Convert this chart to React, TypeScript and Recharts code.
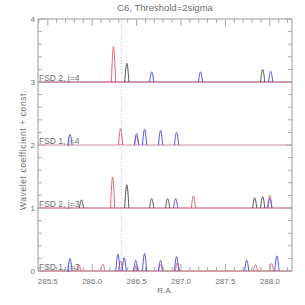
import { LineChart, Line, XAxis, YAxis, ReferenceLine, ReferenceArea } from "recharts";

// tick positions
const xTicks = [
  285.4, 285.5, 285.6, 285.7, 285.8, 285.9, 286.0, 286.1, 286.2, 286.3, 286.4, 286.5, 286.6, 286.7, 286.8,
  286.9, 287.0, 287.1, 287.2, 287.3, 287.4, 287.5, 287.6, 287.7, 287.8, 287.9, 288.0, 288.1, 288.2,
];
const yTicks = [0, 0.2, 0.4, 0.6, 0.8, 1, 1.2, 1.4, 1.6, 1.8, 2, 2.2, 2.4, 2.6, 2.8, 3, 3.2, 3.4, 3.6, 3.8, 4];

const rowBases = [3, 2, 1, 0];
const rowLabels = ["FSD 2, j=4", "FSD 1, j=4", "FSD 2, j=3", "FSD 1, j=3"];
const rowColors = ["#a0306e", "#d68a9c", "#c04a6c", "#d27888"];

const markerRA = 286.33;

// peaks per row: [R.A., coefficient + const]
const redPeaks = [
  [[286.24, 3.56]],
  [[286.32, 2.26], [286.5, 2.13]],
  [[286.23, 1.49], [287.14, 1.19], [288.0, 1.2]],
  [[285.85, 0.1], [286.12, 0.11], [286.32, 0.16], [286.5, 0.1], [286.77, 0.1], [286.96, 0.13], [287.84, 0.1], [288.02, 0.12]],
];
const blackPeaks = [
  [[286.39, 3.3], [287.92, 3.2]],
  [],
  [[285.88, 1.13], [286.39, 1.37], [286.67, 1.15], [286.85, 1.15], [287.83, 1.16], [287.92, 1.18]],
  [],
];
const bluePeaks = [
  [[286.67, 3.16], [287.22, 3.16], [288.01, 3.17]],
  [[285.75, 2.17], [286.5, 2.18], [286.59, 2.25], [286.77, 2.23], [286.95, 2.2]],
  [[286.94, 1.15], [288.0, 1.15]],
  [[285.75, 0.2], [286.29, 0.27], [286.36, 0.21], [286.49, 0.17], [286.59, 0.28], [286.77, 0.17], [286.95, 0.23], [287.74, 0.17], [288.08, 0.24]],
];

const HALF = 0.024;
const PLOT_W = 254;
const PLOT_H = 252;
const TXT = "#707070";
const FONT = "'Liberation Sans', 'DejaVu Sans', sans-serif";

function arches(peaks: number[][], base: number) {
  const pts: { x: number; y: number | null }[] = [];
  [...peaks].sort((a, b) => a[0] - b[0]).forEach(([ra, top]) => {
    pts.push({ x: ra - HALF, y: base }, { x: ra, y: top }, { x: ra + HALF, y: base }, { x: ra + HALF, y: null });
  });
  return pts;
}

function XTick(props: any) {
  const { x, y, payload } = props;
  const v = payload.value as number;
  const major = Math.abs(v * 2 - Math.round(v * 2)) < 1e-6;
  const len = major ? 7 : 4;
  return (
    <g>
      <line x1={x} y1={y} x2={x} y2={y - len} stroke="#aaa" />
      <line x1={x} y1={y - PLOT_H} x2={x} y2={y - PLOT_H + len} stroke="#aaa" />
      {major && (
        <text x={x} y={y + 13} textAnchor="middle" fontSize={8} fill={TXT} fontFamily={FONT}>
          {v.toFixed(1)}
        </text>
      )}
    </g>
  );
}

function YTick(props: any) {
  const { x, y, payload } = props;
  const v = payload.value as number;
  const major = Math.abs(v - Math.round(v)) < 1e-6;
  const len = major ? 7 : 4;
  return (
    <g>
      <line x1={x} y1={y} x2={x + len} y2={y} stroke="#aaa" />
      <line x1={x + PLOT_W} y1={y} x2={x + PLOT_W - len} y2={y} stroke="#aaa" />
      {major && (
        <text x={x - 3} y={y + 3} textAnchor="end" fontSize={8} fill={TXT} fontFamily={FONT}>
          {v}
        </text>
      )}
    </g>
  );
}

function RowLabel(props: any) {
  const { viewBox, value } = props;
  return (
    <text x={viewBox.x + 1} y={viewBox.y - 1.5} fontSize={8.5} fill={TXT} fontFamily={FONT}>
      {value}
    </text>
  );
}

export default function App() {
  return (
    <div style={{ position: "absolute", left: 0, top: 0, width: 305, height: 305, background: "#fff", fontFamily: FONT }}>
      <div style={{ position: "absolute", left: 38, width: PLOT_W, top: 2, textAlign: "center", fontSize: 9.5, color: TXT }}>
        C6, Threshold=2sigma
      </div>
      <div style={{ position: "absolute", left: 38, width: PLOT_W, top: 286, textAlign: "center", fontSize: 8, color: TXT }}>
        R.A.
      </div>
      <div
        style={{
          position: "absolute",
          left: 23,
          top: 150,
          transform: "translate(-50%, -50%) rotate(-90deg)",
          whiteSpace: "nowrap",
          fontSize: 8.5,
          color: TXT,
          letterSpacing: 0.6,
        }}
      >
        Wavelet coefficient + const.
      </div>
      <LineChart width={305} height={305} margin={{ top: 19, right: 13, bottom: 33, left: 37 }}>
        <XAxis
          dataKey="x"
          type="number"
          domain={[285.39, 288.25]}
          allowDataOverflow
          ticks={xTicks}
          interval={0}
          height={1}
          tickSize={0}
          tickMargin={0}
          axisLine={false}
          tick={<XTick />}
        />
        <YAxis
          type="number"
          domain={[0, 4]}
          allowDataOverflow
          ticks={yTicks}
          interval={0}
          width={1}
          tickSize={0}
          tickMargin={0}
          axisLine={false}
          tick={<YTick />}
        />
        <ReferenceArea x1={285.39} x2={288.25} y1={0} y2={4} fill="none" stroke="#999" strokeWidth={1} />
        <ReferenceLine x={markerRA} stroke="#bbb" strokeDasharray="1 2" />
        {rowBases.map((b, i) => (
          <ReferenceLine
            key={"base" + i}
            y={b}
            stroke={rowColors[i]}
            strokeWidth={1.2}
            label={<RowLabel value={rowLabels[i]} />}
          />
        ))}
        {rowBases.map((b, i) => (
          <Line
            key={"red" + i}
            data={arches(redPeaks[i], b)}
            dataKey="y"
            type="monotone"
            stroke="#e26470"
            dot={false}
            connectNulls={false}
            isAnimationActive={false}
          />
        ))}
        {rowBases.map((b, i) => (
          <Line
            key={"black" + i}
            data={arches(blackPeaks[i], b)}
            dataKey="y"
            type="monotone"
            stroke="#555"
            dot={false}
            connectNulls={false}
            isAnimationActive={false}
          />
        ))}
        {rowBases.map((b, i) => (
          <Line
            key={"blue" + i}
            data={arches(bluePeaks[i], b)}
            dataKey="y"
            type="monotone"
            stroke="#5454ea"
            dot={false}
            connectNulls={false}
            isAnimationActive={false}
          />
        ))}
      </LineChart>
    </div>
  );
}
